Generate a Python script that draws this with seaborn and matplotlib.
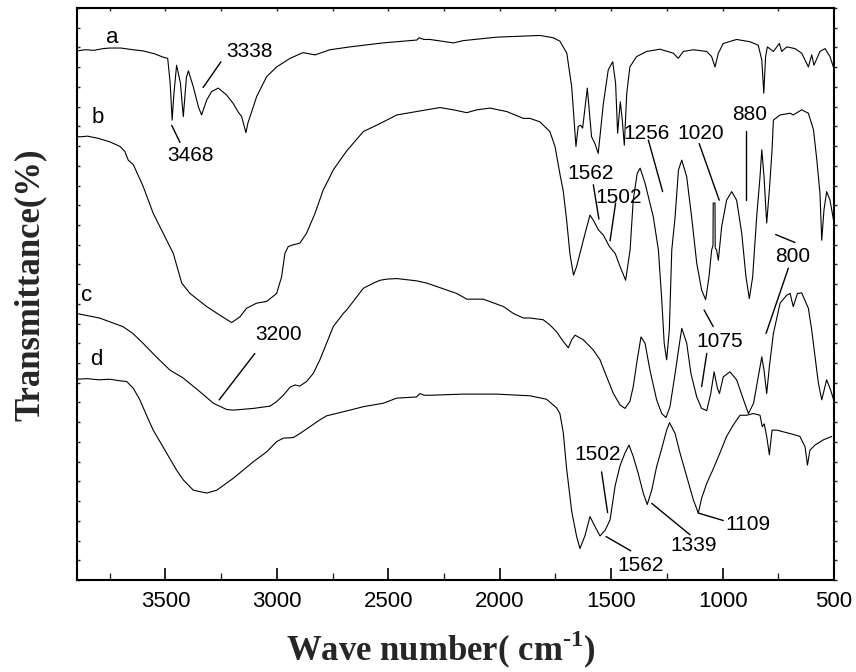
import numpy as np
import pandas as pd
import matplotlib
matplotlib.use("Agg")
import matplotlib.pyplot as plt
from matplotlib.ticker import MultipleLocator
import seaborn as sns

# ---- FTIR spectra: wavenumber (cm-1) and transmittance (arbitrary %) ----
wn_a = [3897, 3860, 3820, 3780, 3750, 3700, 3645, 3600, 3550, 3510, 3490, 3479, 3470, 3462,
        3450, 3433, 3420, 3406, 3397, 3375, 3352, 3338, 3315, 3293, 3263, 3226, 3196, 3175,
        3158, 3139, 3130, 3106, 3091, 3046, 3001, 2941, 2883, 2829, 2762, 2672, 2524, 2372,
        2362, 2340, 2313, 2208, 2163, 2014, 1820, 1760, 1730, 1699, 1677, 1658, 1648, 1637,
        1628, 1607, 1588, 1573, 1558, 1535, 1513, 1493, 1480, 1471, 1459, 1450, 1441, 1430,
        1416, 1386, 1341, 1281, 1221, 1199, 1176, 1131, 1071, 1049, 1034, 1019, 997, 937,
        877, 840, 824, 815, 807, 799, 772, 745, 735, 712, 675, 645, 615, 600, 590, 563, 540,
        518, 503]
tr_a = [92.5, 92.7, 92.6, 92.9, 93.0, 93.0, 92.7, 92.5, 92.0, 91.4, 91.2, 86.9, 80.4, 85.1,
        90.0, 86.9, 81.0, 87.9, 89.0, 86.2, 82.7, 81.3, 83.9, 85.4, 86.0, 84.8, 83.3, 81.9,
        81.0, 78.2, 79.9, 82.7, 84.5, 88.0, 89.7, 91.2, 92.2, 91.8, 92.7, 93.2, 93.9, 94.4,
        94.8, 94.5, 94.5, 93.9, 94.3, 94.9, 95.2, 94.8, 94.2, 92.1, 86.2, 75.8, 79.3, 79.5,
        79.0, 86.0, 77.5, 76.3, 74.6, 83.3, 89.2, 90.6, 86.8, 78.1, 83.6, 80.4, 76.0, 85.1,
        89.7, 91.5, 92.4, 92.8, 92.1, 91.2, 92.4, 92.7, 92.4, 91.5, 89.7, 92.1, 93.8, 94.5,
        94.1, 93.5, 90.9, 85.1, 91.5, 93.2, 92.4, 93.8, 92.4, 93.2, 92.9, 92.1, 89.7, 91.8,
        90.0, 92.4, 92.9, 91.5, 89.7]

wn_b = [3897, 3876, 3850, 3800, 3750, 3704, 3682, 3667, 3644, 3600, 3555, 3510, 3465, 3427,
        3390, 3315, 3256, 3203, 3166, 3136, 3091, 3046, 3001, 2979, 2964, 2949, 2926, 2897,
        2867, 2829, 2792, 2762, 2747, 2687, 2612, 2537, 2462, 2373, 2268, 2208, 2148, 2103,
        2044, 1969, 1894, 1864, 1820, 1775, 1752, 1730, 1715, 1700, 1685, 1669, 1655, 1640,
        1617, 1595, 1580, 1557, 1535, 1508, 1482, 1460, 1435, 1415, 1401, 1383, 1370, 1348,
        1333, 1311, 1288, 1273, 1262, 1251, 1239, 1228, 1213, 1198, 1183, 1161, 1139, 1116,
        1094, 1076, 1061, 1049, 1043, 1042, 1034, 1033, 1027, 1019, 1004, 982, 959, 937, 914,
        895, 880, 865, 847, 832, 824, 814, 802, 790, 778, 772, 742, 697, 683, 645, 615, 592,
        577, 563, 555, 545, 533, 518, 497]
tr_b = [77.5, 77.5, 77.6, 77.2, 76.6, 75.8, 74.9, 73.4, 72.6, 68.8, 64.1, 60.6, 57.1, 51.9,
        50.1, 47.8, 46.3, 45.0, 46.0, 47.5, 48.4, 48.7, 50.1, 53.0, 57.1, 58.3, 58.6, 58.9,
        60.6, 64.1, 68.2, 70.5, 71.7, 75.0, 78.4, 79.8, 81.3, 81.9, 82.6, 82.2, 81.7, 82.2,
        82.5, 81.9, 80.7, 80.7, 80.1, 78.4, 75.8, 71.0, 68.0, 63.0, 57.0, 53.3, 54.8, 57.1,
        60.6, 63.8, 62.9, 61.2, 60.3, 58.3, 57.1, 54.8, 52.4, 57.7, 66.4, 71.1, 72.0, 69.4,
        67.0, 63.5, 57.7, 49.0, 41.4, 38.5, 43.7, 57.7, 63.5, 71.7, 73.4, 70.5, 63.5, 55.4,
        50.7, 49.0, 53.0, 57.7, 58.5, 65.9, 65.9, 58.0, 57.7, 55.9, 61.8, 66.4, 67.9, 66.4, 60.6,
        53.0, 49.2, 53.0, 63.5, 70.5, 75.2, 70.5, 62.4, 68.2, 75.2, 80.4, 81.3, 81.6, 81.3,
        82.2, 81.6, 78.7, 73.4, 67.6, 59.4, 64.7, 67.9, 66.4, 61.8]

wn_c = [3900, 3796, 3691, 3646, 3601, 3541, 3480, 3420, 3345, 3285, 3225, 3195, 3105, 3031,
        3001, 2971, 2941, 2919, 2897, 2867, 2837, 2807, 2777, 2747, 2702, 2687, 2612, 2567,
        2537, 2507, 2462, 2373, 2327, 2238, 2193, 2148, 2118, 2074, 1983, 1939, 1894, 1864,
        1805, 1775, 1745, 1715, 1692, 1677, 1662, 1625, 1580, 1550, 1520, 1490, 1460, 1438,
        1416, 1401, 1383, 1366, 1348, 1326, 1296, 1273, 1254, 1236, 1213, 1191, 1183, 1161,
        1142, 1116, 1094, 1071, 1053, 1038, 1023, 1014, 997, 967, 937, 906, 884, 861, 840,
        824, 814, 802, 790, 772, 742, 712, 697, 683, 664, 645, 615, 600, 585, 570, 555, 533,
        515, 497]
tr_c = [46.6, 45.8, 44.3, 43.1, 41.4, 39.0, 36.7, 35.3, 32.9, 30.9, 29.8, 29.7, 30.0, 30.4,
        31.2, 32.3, 33.7, 34.1, 33.9, 34.7, 36.1, 38.5, 41.4, 44.3, 46.6, 47.2, 51.0, 51.9,
        52.4, 52.6, 52.7, 52.3, 51.9, 50.7, 50.1, 49.1, 49.1, 49.1, 47.8, 46.6, 45.8, 45.8,
        45.5, 44.6, 43.4, 41.7, 40.6, 42.0, 42.8, 42.0, 40.2, 38.5, 35.5, 32.6, 30.6, 30.0,
        31.2, 33.8, 38.5, 42.5, 41.4, 36.7, 31.5, 29.1, 28.4, 30.3, 36.1, 42.0, 44.0, 41.4,
        36.1, 32.0, 30.0, 29.6, 32.6, 36.4, 33.5, 32.6, 35.5, 36.4, 35.0, 31.5, 29.1, 30.9, 35.5,
        39.0, 36.7, 32.6, 37.3, 43.1, 48.4, 49.8, 50.1, 47.8, 50.1, 50.2, 47.5, 43.7, 39.0,
        34.4, 31.5, 35.0, 33.2, 30.9]

wn_d = [3900, 3850, 3800, 3750, 3700, 3674, 3644, 3615, 3585, 3555, 3525, 3495, 3450, 3420,
        3375, 3315, 3270, 3195, 3105, 3046, 3001, 2971, 2926, 2897, 2852, 2807, 2777, 2672,
        2612, 2523, 2462, 2373, 2358, 2340, 2313, 2163, 2014, 1864, 1790, 1745, 1730, 1715,
        1700, 1677, 1655, 1640, 1617, 1595, 1572, 1550, 1527, 1505, 1482, 1460, 1438, 1420,
        1401, 1379, 1356, 1338, 1318, 1296, 1273, 1251, 1238, 1213, 1191, 1161, 1131, 1109,
        1094, 1071, 1041, 1012, 982, 952, 922, 892, 862, 832, 822, 813, 802, 790, 778, 757,
        697, 653, 630, 619, 608, 585, 548, 510]
tr_d = [35.1, 35.2, 35.0, 35.1, 34.8, 34.7, 33.5, 31.5, 28.8, 26.2, 24.2, 22.2, 19.2, 17.5,
        15.7, 15.2, 15.7, 17.8, 20.7, 22.4, 24.2, 24.8, 24.9, 25.6, 26.8, 28.0, 28.7, 29.7,
        30.3, 30.9, 31.8, 32.0, 32.6, 32.3, 32.3, 32.5, 32.5, 32.2, 31.6, 30.1, 29.1, 25.8,
        19.5, 12.0, 7.6, 5.5, 7.8, 11.1, 9.3, 7.7, 8.7, 10.5, 16.5, 20.0, 22.2, 23.6,
        21.6, 18.7, 15.2, 13.2, 15.7, 19.8, 23.0, 26.2, 27.5, 25.6, 22.2, 18.1, 14.0, 11.7,
        14.3, 16.9, 19.5, 22.2, 25.1, 27.1, 28.8, 28.8, 29.1, 28.8, 26.8, 27.3, 25.1, 21.9,
        26.2, 26.2, 25.6, 25.1, 23.3, 20.1, 22.7, 23.6, 24.5, 25.1]

# curve letters: (text, wavenumber, transmittance)
curve_labels = [("a", 3740, 94.8), ("b", 3805, 80.8), ("c", 3853, 49.8), ("d", 3809, 38.5)]

# band assignments: text, text position, leader segment(s)
band_labels = [
    ("3338", (3123, 92.4), [((3331, 86.1), (3251, 90.6))]),
    ("3468", (3388, 74.3), [((3472, 79.5), (3435, 76.5))]),
    ("1562", (1593, 71.1), [((1580, 69.1), (1555, 63.1))]),
    ("1502", (1465, 66.9), [((1480, 65.9), (1505, 59.3))]),
    ("1256", (1339, 78.1), [((1333, 76.9), (1269, 67.9))]),
    ("1020", (1097, 78.1), [((1105, 76.3), (1015, 66.4))]),
    ("880", (878, 81.3), [((895, 78.5), (895, 66.4))]),
    ("800", (684, 56.5), [((762, 60.4), (675, 59.0)), ((705, 54.5), (805, 43.1))]),
    ("1075", (1012, 41.7), [((1083, 47.2), (1042, 44.3)), ((1071, 39.6), (1094, 33.8))]),
    ("3200", (2992, 43.0), [((3099, 39.6), (3259, 31.5))]),
    ("1502", (1561, 21.9), [((1543, 18.9), (1516, 11.8))]),
    ("1562", (1366, 2.6), [((1523, 7.6), (1412, 5.1))]),
    ("1339", (1128, 6.0), [((1318, 13.4), (1146, 7.9))]),
    ("1109", (888, 9.7), [((1109, 11.7), (997, 10.4))]),
]

x_ticks = [3500, 3000, 2500, 2000, 1500, 1000, 500]

sns.set_theme(style="ticks")
plt.rcParams["font.family"] = ["Liberation Sans", "DejaVu Sans"]
plt.rcParams["mathtext.fontset"] = "custom"
plt.rcParams["mathtext.rm"] = "Liberation Serif:bold"
plt.rcParams["mathtext.bf"] = "Liberation Serif:bold"

frames = []
for name, wn, tr in (("a", wn_a, tr_a), ("b", wn_b, tr_b), ("c", wn_c, tr_c), ("d", wn_d, tr_d)):
    frames.append(pd.DataFrame({"wavenumber": wn, "transmittance": tr, "sample": name}))
spectra = pd.concat(frames, ignore_index=True)

fig = plt.figure(figsize=(8.56, 6.72), dpi=100)
ax = fig.add_axes([77 / 856, 92 / 672, 757 / 856, 572 / 672])

sns.lineplot(data=spectra, x="wavenumber", y="transmittance", hue="sample", units="sample",
             estimator=None, sort=False, palette=["black"] * 4, linewidth=0.8,
             legend=False, ax=ax)

ax.set_xlim(3897, 500)
ax.set_ylim(0, 100)

for txt, w, t in curve_labels:
    ax.text(w, t, txt, fontsize=16, ha="center", va="center", color="black")

for txt, (tx, ty), segs in band_labels:
    ax.text(tx, ty, txt, fontsize=15, ha="center", va="center", color="black")
    for (x0, y0), (x1, y1) in segs:
        ax.plot([x0, x1], [y0, y1], color="black", linewidth=1.0)

ax.set_xticks(x_ticks)
ax.xaxis.set_minor_locator(MultipleLocator(250))
ax.tick_params(axis="x", which="major", direction="in", length=8.5, width=1.2,
               labelsize=16, pad=8, top=False, colors="black")
ax.tick_params(axis="x", which="minor", direction="in", length=5, width=1.0, top=False)
ax.set_yticks(np.linspace(0, 100, 30))
ax.tick_params(axis="y", which="major", direction="in", length=2.5, width=1.0,
               labelleft=False, right=False)

# right and top frame ticks
sec_y = ax.secondary_yaxis("right")
sec_y.set_yticks(np.linspace(0, 100, 30))
sec_y.tick_params(direction="out", length=2.5, width=1.0, labelright=False)
sec_x = ax.secondary_xaxis("top")
sec_x.set_xticks(np.arange(750, 3900, 250))
sec_x.tick_params(direction="in", length=2.5, width=1.0, labeltop=False)
for s in (sec_y, sec_x):
    for sp in s.spines.values():
        sp.set_visible(False)

for sp in ax.spines.values():
    sp.set_linewidth(1.5)
    sp.set_color("black")

ax.set_xlabel(r"Wave number( cm$^{\text{-1}}$)", fontsize=25, fontweight="bold",
              family="Liberation Serif")
ax.set_ylabel("Transmittance(%)", fontsize=25, fontweight="bold", family="Liberation Serif")
ax.xaxis.set_label_coords(0.481, -0.085)
ax.yaxis.set_label_coords(-0.040, 0.517)

fig.savefig("out.png", dpi=100)
